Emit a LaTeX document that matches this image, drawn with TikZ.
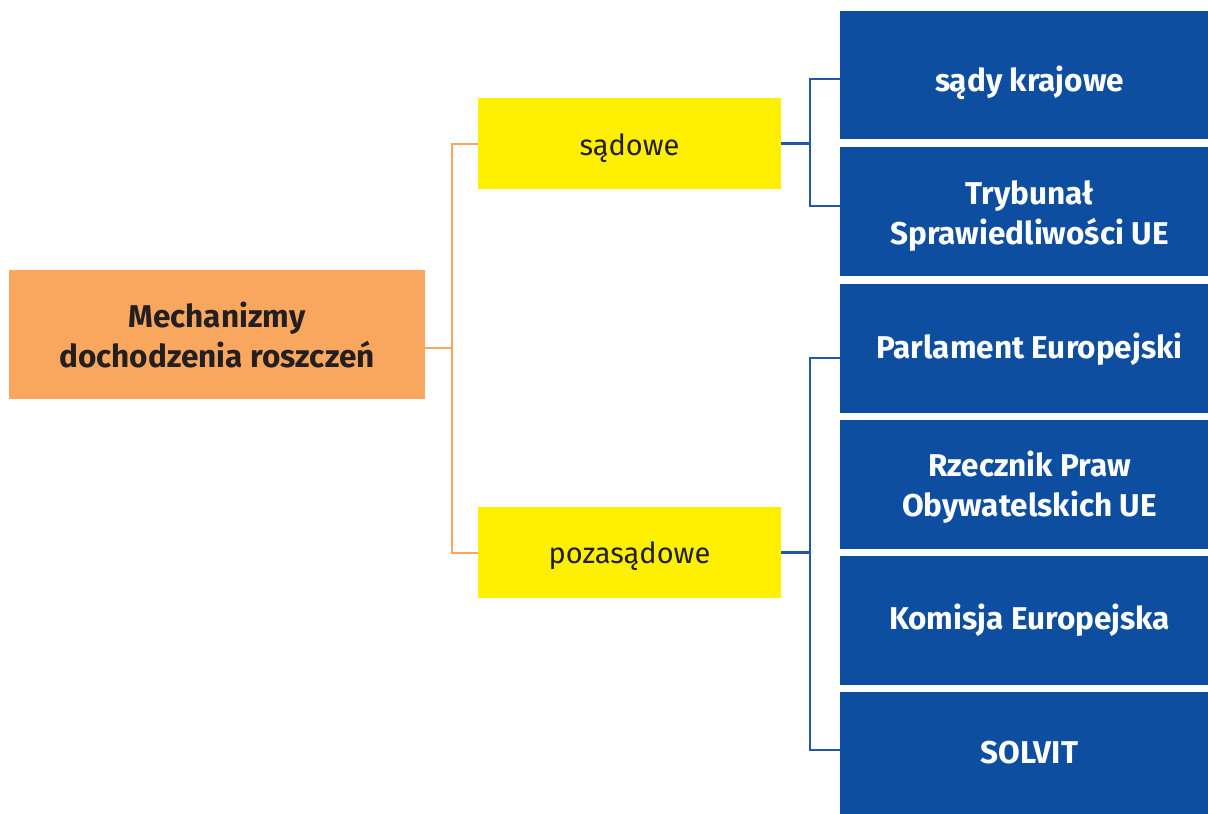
\documentclass[tikz,border=0pt]{standalone}
\usepackage{fontspec}
\setmainfont{Fira Sans}
\definecolor{eublue}{HTML}{0D4EA1}
\definecolor{euyellow}{HTML}{FFEF00}
\definecolor{euorange}{HTML}{F9A65E}
\definecolor{lineblue}{HTML}{2358A8}
\definecolor{txt}{HTML}{231F20}
\begin{document}
\begin{tikzpicture}[x=1pt,y=-1pt,
  bluebox/.style={fill=eublue,minimum width=368pt,minimum height=128.5pt,inner sep=0pt},
  bluetext/.style={text=white,inner sep=0pt,align=center,font=\fontsize{31.5}{40}\selectfont\bfseries},
  yellowbox/.style={fill=euyellow,minimum width=303pt,minimum height=91pt,inner sep=0pt},
  yellowtext/.style={text=txt,inner sep=0pt,font=\fontsize{29}{34}\selectfont},
  orangebox/.style={fill=euorange,text=txt,minimum width=416pt,minimum height=129pt,inner sep=0pt,align=center,font=\fontsize{31.5}{40}\selectfont\bfseries},
  oline/.style={draw=euorange,line width=2pt},
  bline/.style={draw=lineblue,line width=2.2pt}]
\useasboundingbox (0,0) rectangle (1208,814);
\begin{scope}
\clip (0,0) rectangle (1208,814);
\node[orangebox] (root) at (217,334.5) {Mechanizmy\\dochodzenia roszczeń};
\node[yellowbox] (sad) at (629.5,143.5) {};
\node[yellowbox] (poz) at (629.5,552.5) {};
\node[yellowtext] (sadt) at ([yshift=-5pt]sad.center) {sądowe};
\node[yellowtext] (pozt) at ([yshift=-4pt]poz.center) {pozasądowe};
\node[bluebox] (b1) at (1024,75) {};
\node[bluebox] (b2) at (1024,211.5) {};
\node[bluebox] (b3) at (1024,348.5) {};
\node[bluebox] (b4) at (1024,484.5) {};
\node[bluebox] (b5) at (1024,620.5) {};
\node[bluebox] (b6) at (1024,756) {};
\node[bluetext] (t1) at ([xshift=5.5pt,yshift=-8pt]b1.center) {sądy krajowe};
\node[bluetext] (t2) at ([xshift=5.5pt,yshift=-5pt]b2.center) {Trybunał\\Sprawiedliwości UE};
\node[bluetext] (t3) at ([xshift=5.5pt,yshift=-1pt]b3.center) {Parlament Europejski};
\node[bluetext] (t4) at ([xshift=5.5pt,yshift=-3pt]b4.center) {Rzecznik Praw\\Obywatelskich UE};
\node[bluetext] (t5) at ([xshift=5.5pt]b5.center) {Komisja Europejska};
\node[bluetext] (t6) at ([xshift=5.5pt,yshift=3pt]b6.center) {SOLVIT};
\end{scope}
\coordinate (ob) at (452,348);
\coordinate (oy) at (0,348);
\coordinate (sj) at (810,143.5);
\coordinate (pj) at (810,552.5);
\coordinate (y1) at (0,79);
\coordinate (y2) at (0,206);
\coordinate (y3) at (0,358);
\coordinate (y6) at (0,750);
\draw[oline] (root.east |- oy) -- (ob);
\draw[oline] (sad.west) -| (ob) |- (poz.west);
\draw[bline] (sad.east) -- (sj);
\draw[bline] (b1.west |- y1) -| (sj) |- (b2.west |- y2);
\draw[bline] (poz.east) -- (pj);
\draw[bline] (b3.west |- y3) -| (pj) |- (b6.west |- y6);
\end{tikzpicture}
\end{document}
